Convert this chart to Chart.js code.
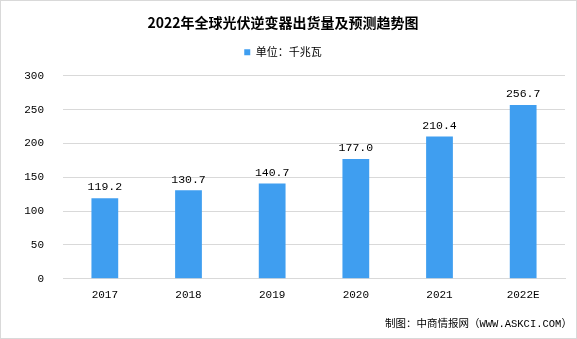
<!DOCTYPE html>
<html lang="zh">
<head>
  <meta charset="UTF-8" />
  <title>2022年全球光伏逆变器出货量及预测趋势图</title>
  <script src="https://cdn.jsdelivr.net/npm/chart.js"></script>
  <style>
    body {
      margin: 0;
      background: #fff;
    }
    .wrap {
      position: relative;
      width: 577px;
      height: 339px;
      box-sizing: border-box;
      border: 1px solid #d9d9d9;
      font-family: 'Noto Sans CJK SC', sans-serif;
    }
    .source {
      position: absolute;
      left: 384px;
      top: 314px;
      font-family: 'Liberation Mono', 'Noto Sans CJK SC', monospace;
      font-size: 10.5px;
      color: #000;
      white-space: nowrap;
    }
  </style>
</head>
<body>
  <div class="wrap">
    <canvas id="chart" width="575" height="337"></canvas>
    <div class="source">制图：中商情报网（WWW.ASKCI.COM）</div>
  </div>

  <script>
    const years = ["2017", "2018", "2019", "2020", "2021", "2022E"];
    const shipments = [119.2, 130.7, 140.7, 177.0, 210.4, 256.7];
    const yTicks = [0, 50, 100, 150, 200, 250, 300];

    const monoFont = "'Liberation Mono', 'DejaVu Sans Mono', monospace";

    // value labels above each bar
    const valueLabels = {
      id: "valueLabels",
      afterDatasetsDraw(chart) {
        const ctx = chart.ctx;
        const meta = chart.getDatasetMeta(0);
        ctx.save();
        ctx.font = "11.5px " + monoFont;
        ctx.fillStyle = "#000";
        ctx.textAlign = "center";
        ctx.textBaseline = "bottom";
        meta.data.forEach((bar, i) => {
          ctx.fillText(shipments[i].toFixed(1), bar.x, bar.y - 5);
        });
        ctx.restore();
      }
    };

    // extra gap under the legend
    const legendGap = {
      id: "legendGap",
      beforeInit(chart) {
        const fit = chart.legend.fit;
        chart.legend.fit = function () {
          fit.call(this);
          this.height += 8;
        };
      }
    };

    new Chart(document.getElementById("chart"), {
      type: "bar",
      data: {
        labels: years,
        datasets: [{
          label: "单位：千兆瓦",
          data: shipments,
          backgroundColor: "#3f9ef0",
          categoryPercentage: 1,
          barPercentage: 0.32
        }]
      },
      options: {
        responsive: false,
        animation: false,
        layout: { padding: { left: 0, right: 11, top: 0, bottom: 34 } },
        plugins: {
          title: {
            display: true,
            text: "2022年全球光伏逆变器出货量及预测趋势图",
            color: "#000",
            font: { family: "'Noto Sans CJK SC'", size: 14, weight: "bold" },
            padding: { top: 13, bottom: 6 }
          },
          legend: {
            display: true,
            labels: {
              color: "#000",
              font: { family: "'Noto Sans CJK SC'", size: 11 },
              boxWidth: 6,
              boxHeight: 6,
              padding: 10
            }
          },
          tooltip: { enabled: false }
        },
        scales: {
          x: {
            grid: { display: false },
            border: { color: "#d9d9d9" },
            ticks: {
              color: "#000",
              font: { family: monoFont, size: 11 },
              padding: 2
            }
          },
          y: {
            min: 0,
            max: 300,
            afterFit(scale) { scale.width = 62; },
            afterBuildTicks(scale) { scale.ticks = yTicks.map(v => ({ value: v })); },
            grid: { color: "#d9d9d9", drawTicks: false },
            border: { display: false },
            ticks: {
              color: "#000",
              font: { family: monoFont, size: 11 },
              padding: 19
            }
          }
        }
      },
      plugins: [valueLabels, legendGap]
    });
  </script>
</body>
</html>
